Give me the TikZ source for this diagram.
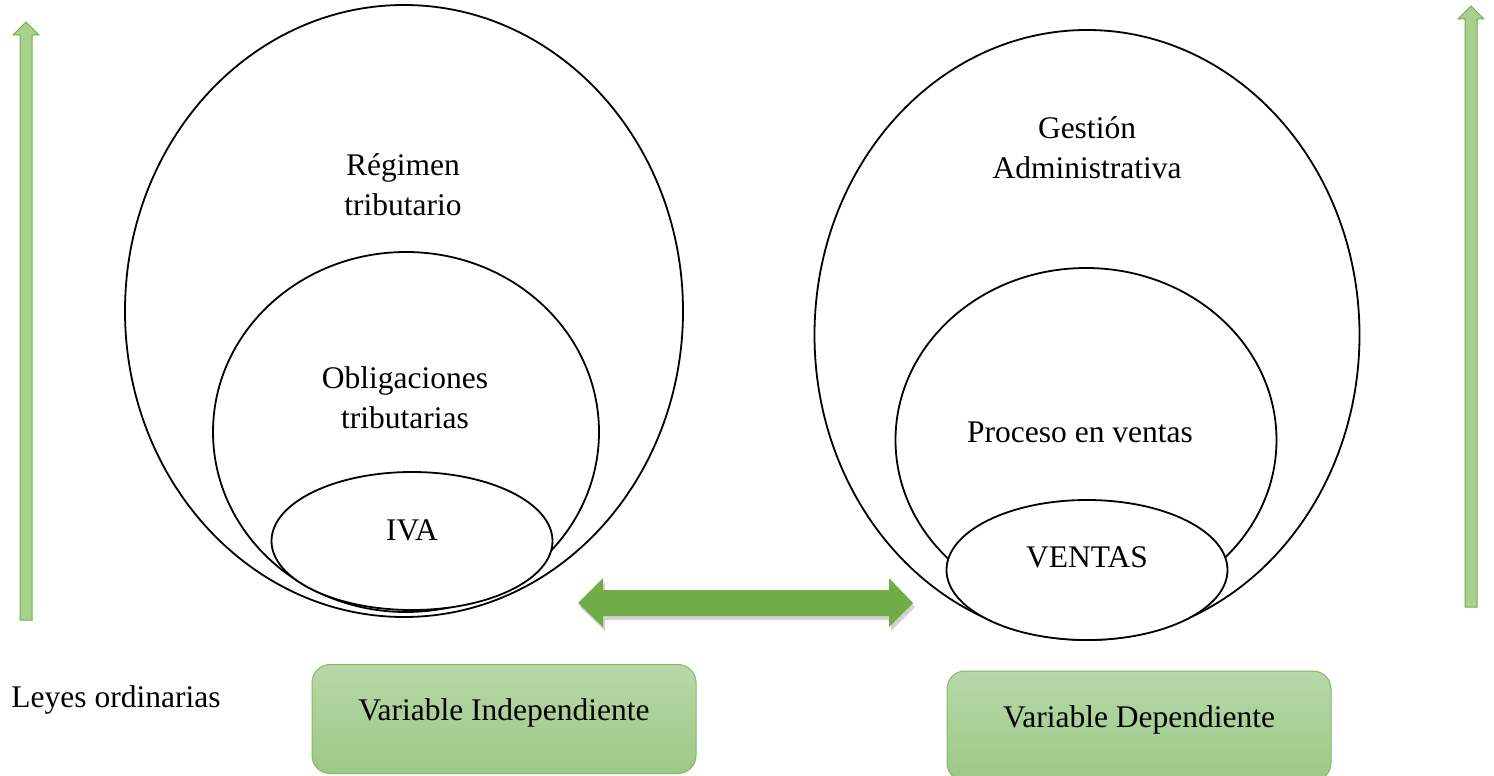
\documentclass[tikz,border=0pt]{standalone}
\usepackage{fontspec}
\setmainfont{Liberation Serif}
\usetikzlibrary{shapes.geometric,shadows}
\definecolor{leafgreen}{HTML}{70AD47}
\definecolor{palegreen}{HTML}{A9D18E}
\definecolor{boxtop}{HTML}{B7D8A9}
\definecolor{boxbot}{HTML}{9CC985}
\begin{document}
\begin{tikzpicture}[
x=1pt, y=-1pt,
ring/.style={
  draw,
  fill=white,
  ellipse,
  line width=1.8pt,
  inner sep=0pt
  },
txt/.style={font=\fontsize{31.5}{40}\selectfont, align=center},
varbox/.style={
  draw=leafgreen!85,
  line width=1pt,
  rounded corners=18pt,
  top color=boxtop,
  bottom color=boxbot,
  minimum width=384pt,
  text height=22pt,
  text depth=20pt,
  txt
  },
uparrow/.style={draw=leafgreen, fill=palegreen, line width=1pt}
]
\useasboundingbox (0,0) rectangle (1494,776);

% left side
\node[ring, minimum width=558pt, minimum height=612pt] (regimen) at (404,311) {};
\node[ring, minimum width=386pt, minimum height=360pt] (obligaciones) at (406,432) {};
\node[ring, minimum width=281pt, minimum height=138pt] (iva) at (412,541) {};
\node[txt] (regimenT) at (403,185) {Régimen\\tributario};
\node[txt] (obligacionesT) at (405,398) {Obligaciones\\tributarias};
\node[txt] (ivaT) at (412,530) {IVA};

% right side
\node[ring, minimum width=545pt, minimum height=610pt] (gestion) at (1087,335) {};
\node[ring, minimum width=381pt, minimum height=344pt] (proceso) at (1086,440) {};
\node[ring, minimum width=281pt, minimum height=140pt] (ventas) at (1087,570) {};
\node[txt] (gestionT) at (1087,148) {Gestión\\Administrativa};
\node[txt] (procesoT) at (1080,432) {Proceso en ventas};
\node[txt] (ventasT) at (1087,557) {VENTAS};

% double arrow
\fill[leafgreen, drop shadow={shadow xshift=2pt, shadow yshift=-4pt, opacity=0.35}]
  (578,603) -- (603,578) -- (603,590) -- (889,590) -- (889,578) -- (913,603)
  -- (889,627) -- (889,616) -- (603,616) -- (603,627) -- cycle;

% side arrows
\foreach \X/\Top/\Bot in {26/22/620, 1471/6/607}
  \draw[uparrow] (\X-6,\Bot) -- (\X-6,\Top+13) -- (\X-13,\Top+13) -- (\X,\Top)
    -- (\X+13,\Top+13) -- (\X+6,\Top+13) -- (\X+6,\Bot) -- cycle;

\node[txt] (leyes) at (116,700) {Leyes ordinarias};
\node[varbox, minimum height=109pt] (independiente) at (504,719) {Variable Independiente};
\node[varbox, minimum height=110pt] (dependiente) at (1139,726) {Variable Dependiente};
\end{tikzpicture}
\end{document}
